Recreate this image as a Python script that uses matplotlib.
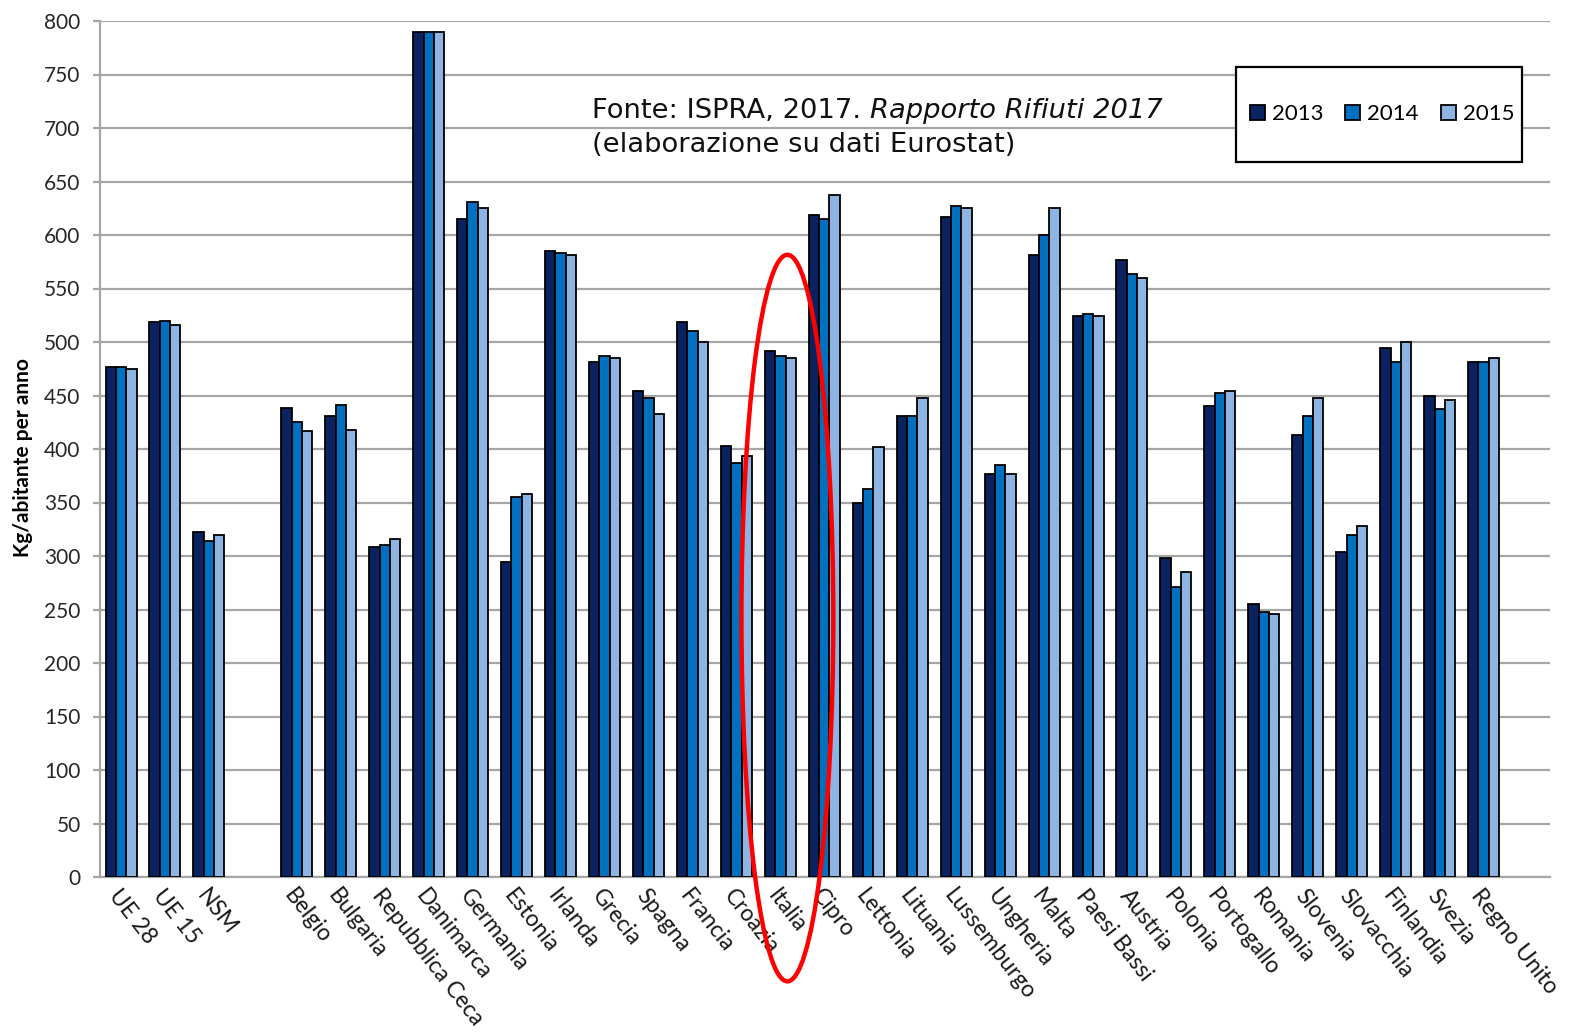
import matplotlib

matplotlib.use("Agg")
import matplotlib.pyplot as plt
import numpy as np
from matplotlib.patches import Ellipse, Patch, Rectangle


CATEGORIES = [
    "UE 28", "UE 15", "NSM",
    "Belgio", "Bulgaria", "Repubblica Ceca", "Danimarca", "Germania", "Estonia",
    "Irlanda", "Grecia", "Spagna", "Francia", "Croazia", "Italia", "Cipro",
    "Lettonia", "Lituania", "Lussemburgo", "Ungheria", "Malta", "Paesi Bassi",
    "Austria", "Polonia", "Portogallo", "Romania", "Slovenia", "Slovacchia",
    "Finlandia", "Svezia", "Regno Unito",
]
N_AGGREGATES = 3  # UE 28, UE 15, NSM sit apart from the member states

YEARS = ["2013", "2014", "2015"]
VALUES_2013 = [
    477, 519, 322,
    438, 431, 308, 790, 615, 294, 585, 481, 454, 519, 403, 492, 619,
    350, 431, 617, 377, 581, 524, 577, 298, 440, 255, 413, 304, 494, 450, 481,
]
VALUES_2014 = [
    477, 520, 314,
    425, 441, 310, 790, 631, 355, 583, 487, 448, 510, 387, 487, 615,
    363, 431, 627, 385, 600, 526, 564, 271, 452, 248, 431, 320, 481, 437, 481,
]
VALUES_2015 = [
    475, 516, 320,
    417, 418, 316, 790, 625, 358, 581, 485, 433, 500, 393, 485, 637,
    402, 448, 625, 377, 625, 524, 560, 285, 454, 246, 448, 328, 500, 446, 485,
]
HIGHLIGHT = "Italia"

COLOURS = ["#0b2260", "#0070c0", "#8db4e2"]
GRID_GREY = "#a6a6a6"
W, H = 1570, 1035

plt.rcParams["font.family"] = ["Lato", "DejaVu Sans"]

fig = plt.figure(figsize=(W / 100, H / 100), dpi=100)
ax = fig.add_axes([100 / W, 1 - 877 / H, 1450 / W, 856 / H])

idx = np.arange(len(CATEGORIES))
x = idx + (idx >= N_AGGREGATES)  # leave one empty slot after the aggregates
width = 0.235

for k, (vals, colour, year) in enumerate(zip([VALUES_2013, VALUES_2014, VALUES_2015], COLOURS, YEARS)):
    ax.bar(x + (k - 1) * width, vals, width=width, color=colour,
           edgecolor="black", linewidth=1.3, label=year, zorder=3)

ax.set_ylim(0, 800)
ax.set_yticks(np.arange(0, 801, 50))
ax.set_xlim(-0.478, 32.51)
ax.grid(axis="y", color=GRID_GREY, linewidth=1.6, zorder=0)
ax.set_axisbelow(True)

for side in ("top", "right"):
    ax.spines[side].set_visible(False)
for side in ("left", "bottom"):
    ax.spines[side].set_color(GRID_GREY)
    ax.spines[side].set_linewidth(1.6)

ax.tick_params(axis="y", length=5, width=1.6, color=GRID_GREY, pad=9,
               labelsize=15, labelcolor="#262626")
ax.tick_params(axis="x", length=0, pad=6, labelsize=16.5, labelcolor="#1a1a1a")
ax.set_xticks(x)
ax.set_xticklabels(CATEGORIES, rotation=-52, ha="left", va="top",
                   rotation_mode="anchor")

ax.set_ylabel("Kg/abitante per anno", fontsize=15, fontweight="bold")
ax.yaxis.set_label_coords(-0.046, 0.49)

# source note, with the report title in italics
note_font = dict(fontsize=19.7, color="#111111", family=["DejaVu Sans"])
src = fig.text(592 / W, 1 - 118 / H, "Fonte: ISPRA, 2017. ", va="baseline", ha="left", **note_font)
ax.annotate("Rapporto Rifiuti 2017", xy=(1, 0), xycoords=src, va="bottom", ha="left",
            style="italic", **note_font)
fig.text(592 / W, 1 - 152 / H, "(elaborazione su dati Eurostat)",
         va="baseline", ha="left", **note_font)

# legend: boxed frame drawn separately, entries centred inside it
ax.add_patch(Rectangle((1236 / W, 1 - 162 / H), 286 / W, 95 / H,
                       transform=fig.transFigure, facecolor="white",
                       edgecolor="black", linewidth=1.6, zorder=4, clip_on=False))
handles = [Patch(facecolor=c, edgecolor="black", linewidth=1.3, label=y)
           for c, y in zip(COLOURS, YEARS)]
leg = ax.legend(handles=handles, loc="center",
                bbox_to_anchor=(1382 / W, 1 - 114 / H), bbox_transform=fig.transFigure,
                ncol=3, fontsize=16, frameon=False, borderpad=0,
                handlelength=0.68, handleheight=0.68, handletextpad=0.3,
                columnspacing=1.0, borderaxespad=0)
leg.set_zorder(5)

# red ring around the Italian bars
hx = x[CATEGORIES.index(HIGHLIGHT)]
ax.add_patch(Ellipse((hx + 0.16, 242), width=2.09, height=679, fill=False,
                     edgecolor="#ff0000", linewidth=3.2, clip_on=False, zorder=6))

fig.savefig("out.png", dpi=100)
